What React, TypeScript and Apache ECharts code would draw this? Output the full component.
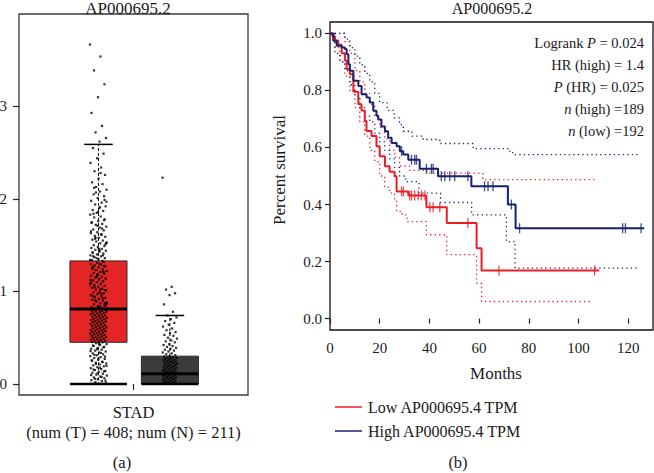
import { useEffect, useRef } from 'react';
import * as echarts from 'echarts';

const FONT = '"Liberation Serif", "Times New Roman", serif';

// ---------- Panel (a): expression box plot ----------
const geneTitle = 'AP000695.2';
const categoryLabel = 'STAD';
const countLabel = '(num (T) = 408; num (N) = 211)';
const leftTicks = [0, 1, 2, 3];
// [min, q1, median, q3, max]
const tumorBox = [0, 0.45, 0.81, 1.33, 2.59];
const normalBox = [0, 0, 0.11, 0.3, 0.74];
const boxFills = ['#e32526', '#3b3b3b'];

const tumorPoints = [
  3.67, 3.54, 3.39, 3.24, 3.1, 2.93, 2.79, 2.72, 2.66, 2.62,
  2.55, 2.49, 2.44, 2.39, 2.34, 2.3, 2.26, 2.22, 2.18, 2.16, 2.13, 2.1, 2.08, 2.05, 2.03, 2.01,
  1.98, 1.96, 1.94, 1.92, 1.9, 1.88, 1.87, 1.85, 1.83, 1.81, 1.8, 1.78, 1.76, 1.75, 1.73, 1.72,
  1.7, 1.69, 1.67, 1.66, 1.64, 1.63, 1.62, 1.6, 1.59, 1.58, 1.56, 1.55, 1.54, 1.53, 1.52, 1.5,
  1.49, 1.48, 1.47, 1.46, 1.45, 1.44, 1.43, 1.42, 1.41, 1.4, 1.39, 1.38, 1.37, 1.36, 1.35, 1.34,
  1.33, 2.07, 1.97, 1.91, 1.84, 1.77, 1.71, 1.65, 1.61, 1.57, 1.51, 1.46, 1.42, 1.39, 1.36, 1.34,
  2.28, 2.12, 1.99, 1.86, 1.74, 1.68, 1.58, 1.52, 1.44, 1.38,
  1.32, 1.31, 1.3, 1.29, 1.28, 1.27, 1.26, 1.25, 1.24, 1.23, 1.22, 1.21, 1.2, 1.19, 1.18, 1.17,
  1.16, 1.15, 1.14, 1.13, 1.12, 1.11, 1.1, 1.09, 1.08, 1.07, 1.06, 1.05, 1.04, 1.03, 1.02, 1.01,
  1.0, 0.99, 0.98, 0.97, 0.96, 0.95, 0.94, 0.93, 0.92, 0.91, 0.9, 0.89, 0.88, 0.87, 0.86, 0.85,
  0.84, 0.83, 0.82, 0.81, 0.8, 1.295, 1.245, 1.205, 1.165, 1.125, 1.085, 1.045, 1.015, 0.985,
  0.955, 0.925, 0.895, 0.865, 0.835, 0.815, 1.275, 1.185, 1.095, 0.975, 0.905, 0.845, 1.135,
  1.265, 1.215, 1.155, 1.075, 1.025, 0.945, 0.875, 0.825,
  0.795, 0.79, 0.785, 0.78, 0.775, 0.77, 0.765, 0.76, 0.755, 0.75, 0.745, 0.74, 0.735, 0.73,
  0.725, 0.72, 0.715, 0.71, 0.705, 0.7, 0.695, 0.69, 0.685, 0.68, 0.675, 0.67, 0.665, 0.66,
  0.655, 0.65, 0.645, 0.64, 0.635, 0.63, 0.625, 0.62, 0.615, 0.61, 0.605, 0.6, 0.595, 0.59,
  0.585, 0.58, 0.575, 0.57, 0.565, 0.56, 0.555, 0.55, 0.545, 0.54, 0.535, 0.53, 0.525, 0.52,
  0.515, 0.51, 0.505, 0.5, 0.495, 0.49, 0.485, 0.48, 0.475, 0.47, 0.465, 0.46, 0.455, 0.45,
  0.44, 0.43, 0.42, 0.41, 0.4, 0.39, 0.38, 0.37, 0.36, 0.35, 0.34, 0.33, 0.32, 0.31, 0.3, 0.29,
  0.28, 0.27, 0.26, 0.25, 0.24, 0.23, 0.22, 0.21, 0.2, 0.19, 0.18, 0.17, 0.16, 0.15, 0.14, 0.13,
  0.12, 0.11, 0.1, 0.09, 0.08, 0.07, 0.06, 0.05, 0.04, 0.03, 0.02, 0.01, 0.435, 0.415, 0.395,
  0.375, 0.355, 0.335, 0.315, 0.295, 0.275, 0.255, 0.235, 0.215, 0.195, 0.175, 0.155, 0.135,
  0.115, 0.095, 0.075, 0.055, 0.035, 0, 0, 0, 0, 0, 0, 0, 0,
];

const normalPoints = [
  2.23, 1.05, 1.02, 0.98, 0.96, 0.86, 0.78,
  0.74, 0.72, 0.7, 0.68, 0.66, 0.64, 0.62, 0.6, 0.58, 0.56, 0.55, 0.53, 0.52, 0.5, 0.49, 0.47,
  0.46, 0.45, 0.43, 0.42, 0.41, 0.4, 0.39, 0.38, 0.37, 0.36, 0.35, 0.34, 0.33, 0.32, 0.31, 0.3,
  0.295, 0.29, 0.285, 0.28, 0.275, 0.27, 0.265, 0.26, 0.255, 0.25, 0.245, 0.24, 0.235, 0.23,
  0.225, 0.22, 0.215, 0.21, 0.205, 0.2, 0.195, 0.19, 0.185, 0.18, 0.175, 0.17, 0.165, 0.16,
  0.155, 0.15, 0.145, 0.14, 0.135, 0.13, 0.125, 0.12, 0.115, 0.11, 0.105, 0.1,
  0.095, 0.09, 0.085, 0.08, 0.075, 0.07, 0.065, 0.06, 0.055, 0.05, 0.045, 0.04, 0.035, 0.03,
  0.025, 0.02, 0.015, 0.01, 0.005, 0, 0, 0, 0, 0, 0, 0, 0, 0, 0, 0,
];

// ---------- Panel (b): Kaplan-Meier ----------
const lowName = 'Low AP000695.4 TPM';
const highName = 'High AP000695.4 TPM';
const monthTicks = [0, 20, 40, 60, 80, 100, 120];
const survTicks = [0, 0.2, 0.4, 0.6, 0.8, 1.0];

const lowTimes = [0, 1, 2, 3.3, 4.7, 6, 6.7, 8, 9.4, 11.4, 12.7, 14, 14.7, 16.7, 18.7, 20, 22.1, 24, 26, 26.8, 31.5, 38.8, 47, 59, 61, 108.4];
const lowSurv = [1, 0.99, 0.975, 0.96, 0.93, 0.905, 0.875, 0.857, 0.795, 0.752, 0.73, 0.693, 0.658, 0.64, 0.604, 0.569, 0.534, 0.515, 0.499, 0.446, 0.432, 0.39, 0.335, 0.247, 0.169, 0.169];
const lowUpperTimes = [0, 3, 6, 8, 10, 12, 14, 16, 18, 20, 22, 24, 26, 28, 32, 39, 61.5, 106.4];
const lowUpperSurv = [1, 1, 0.97, 0.93, 0.87, 0.83, 0.79, 0.75, 0.71, 0.67, 0.63, 0.59, 0.565, 0.535, 0.52, 0.51, 0.487, 0.487];
const lowLowerTimes = [0, 2, 4, 6, 8, 10, 12, 14, 16, 18, 20, 22, 24, 26, 26.8, 29, 31, 38.8, 47, 59, 61, 105];
const lowLowerSurv = [1, 0.95, 0.9, 0.85, 0.8, 0.74, 0.69, 0.64, 0.59, 0.55, 0.5, 0.46, 0.44, 0.417, 0.376, 0.364, 0.34, 0.294, 0.224, 0.124, 0.06, 0.06];
const lowCensor = [28.8, 29.5, 32.1, 32.8, 34.1, 35.5, 36.8, 38.2, 40.2, 41.5, 44.2, 55.5, 68, 106.5];

const highTimes = [0, 1.3, 2.7, 4.7, 6, 6.7, 7.4, 8, 9.4, 11.4, 12.7, 14.7, 16, 17.4, 18.7, 19.4, 20.7, 22.1, 23.4, 24.8, 26.8, 28.1, 29.5, 31.5, 36.1, 43.5, 56.9, 71.6, 74.7, 126.5];
const highSurv = [1, 0.974, 0.957, 0.951, 0.945, 0.927, 0.892, 0.869, 0.834, 0.816, 0.787, 0.775, 0.758, 0.729, 0.711, 0.698, 0.674, 0.657, 0.634, 0.616, 0.604, 0.587, 0.575, 0.557, 0.525, 0.499, 0.464, 0.4, 0.317, 0.317];
const highUpperTimes = [0, 4, 6, 8, 10, 12, 14, 16, 18, 20, 23, 25.8, 28, 29.5, 33, 37.5, 44.2, 57.6, 72.3, 73.6, 124.5];
const highUpperSurv = [1, 1, 0.98, 0.95, 0.92, 0.89, 0.86, 0.83, 0.79, 0.757, 0.73, 0.704, 0.68, 0.657, 0.64, 0.628, 0.614, 0.596, 0.587, 0.575, 0.575];
const highLowerTimes = [0, 2, 4, 6, 8, 10, 12, 14, 16, 18, 20, 22, 24, 26, 28, 30.4, 35.8, 44.5, 57, 71, 74.5, 124.5];
const highLowerSurv = [1, 0.93, 0.9, 0.87, 0.82, 0.78, 0.74, 0.71, 0.69, 0.65, 0.62, 0.59, 0.56, 0.53, 0.5, 0.48, 0.44, 0.407, 0.364, 0.27, 0.177, 0.177];
const highCensor = [28.8, 32.8, 34.1, 34.8, 38.8, 40.8, 41.5, 44.8, 46.2, 48.2, 50.2, 55.5, 62.2, 63.6, 65.6, 73, 76.3, 117.8, 118.9, 125.2];

const statLines = [
  ['Logrank ', 'P', ' = 0.024'],
  ['HR (high) = 1.4', '', ''],
  ['', 'P', ' (HR) = 0.025'],
  ['', 'n', ' (high) =189'],
  ['', 'n', ' (low) =192'],
];

const RED = '#ec1c24';
const BLUE = '#17216e';

const zip = (t: number[], s: number[]) => t.map((v, i) => [v, s[i]]);
const survAt = (t: number[], s: number[], x: number) => {
  let v = s[0];
  for (let i = 0; i < t.length; i++) if (t[i] <= x) v = s[i];
  return v;
};

export default function App() {
  const ref = useRef<HTMLDivElement>(null);
  useEffect(() => {
    if (!ref.current) return;
    const chart = echarts.init(ref.current, undefined, { renderer: 'svg' });

    const boxCenters = [0.347, 0.659];
    const BOX_HALF = 0.1245;
    const jitterHalf = [0.037, 0.032];
    const jitter = (i: number, half: number) => (((i * 0.6180339887) % 1) * 2 - 1) * half;
    const boxData = [tumorBox, normalBox].map((s, i) => [boxCenters[i], ...s]);

    const txt = { fontFamily: FONT, color: '#1a1a1a', fontSize: 15 };

    const ciLine = (name: string, data: number[][], color: string) => ({
      type: 'line', name, xAxisIndex: 1, yAxisIndex: 1, step: 'end', data, showSymbol: false, symbol: 'none',
      lineStyle: { color, width: 1.3, type: [1.3, 3.2] }, z: 2, silent: true,
    });

    const option: any = {
      animation: false,
      backgroundColor: '#fff',
      grid: [
        { left: 19, top: 14, width: 229, height: 381, show: true, borderColor: '#3a3a3a', borderWidth: 1.3, containLabel: false, outerBoundsMode: 'none' },
        { left: 330, top: 22, width: 323, height: 308, show: true, borderColor: '#111', borderWidth: 1.3, containLabel: false, outerBoundsMode: 'none' },
      ],
      xAxis: [
        {
          type: 'value', gridIndex: 0, min: 0, max: 1,
          axisLine: { show: false }, splitLine: { show: false },
          axisTick: { show: true, length: 6, customValues: [0.5], lineStyle: { color: '#222', width: 1.2 } },
          axisLabel: {
            customValues: [0.5], margin: 7, lineHeight: 20, ...txt, fontSize: 16.5,
            formatter: () => categoryLabel + '\n' + countLabel,
          },
        },
        {
          type: 'value', gridIndex: 1, min: 0, max: 130,
          axisLine: { show: false }, splitLine: { show: false },
          axisTick: { show: true, length: 5, customValues: monthTicks, lineStyle: { color: '#222', width: 1.2 } },
          axisLabel: { customValues: monthTicks, margin: 10, ...txt },
        },
      ],
      yAxis: [
        {
          type: 'value', gridIndex: 0, min: -0.12, max: 4.0,
          axisLine: { show: false }, splitLine: { show: false },
          axisTick: { show: true, length: 6, customValues: leftTicks, lineStyle: { color: '#222', width: 1.2 } },
          axisLabel: { customValues: leftTicks, margin: 12, ...txt },
        },
        {
          type: 'value', gridIndex: 1, min: -0.04, max: 1.04,
          axisLine: { show: false }, splitLine: { show: false },
          axisTick: { show: true, length: 5, customValues: survTicks, lineStyle: { color: '#222', width: 1.2 } },
          axisLabel: { customValues: survTicks, margin: 8, ...txt, formatter: (v: number) => v.toFixed(1) },
        },
      ],
      legend: {
        data: [
          { name: lowName, icon: 'rect', itemStyle: { color: RED } },
          { name: highName, icon: 'rect', itemStyle: { color: BLUE } },
        ],
        orient: 'vertical', left: 330, top: 394, itemWidth: 27, itemHeight: 1.5, itemGap: 8,
        textStyle: { ...txt, fontSize: 16, lineHeight: 16, padding: [0, 0, 0, 1] },
        selectedMode: false,
      },
      series: [
        {
          type: 'custom', xAxisIndex: 0, yAxisIndex: 0, z: 1, data: boxData, encode: { x: 0, y: [1, 2, 3, 4, 5] },
          renderItem: (params: any, api: any) => {
            const cx = api.value(0), lo = api.value(1), q1 = api.value(2), q3 = api.value(4), hi = api.value(5);
            const tl = api.coord([cx - BOX_HALF, q3]);
            const br = api.coord([cx + BOX_HALF, q1]);
            const c3 = api.coord([cx, q3]), c1 = api.coord([cx, q1]);
            const chi = api.coord([cx, hi]), clo = api.coord([cx, lo]);
            return {
              type: 'group', children: [
                { type: 'line', shape: { x1: c3[0], y1: c3[1], x2: chi[0], y2: chi[1] }, style: { stroke: '#000', lineWidth: 1, lineDash: [3, 2] } },
                { type: 'line', shape: { x1: c1[0], y1: c1[1], x2: clo[0], y2: clo[1] }, style: { stroke: '#000', lineWidth: 1, lineDash: [3, 2] } },
                { type: 'rect', shape: { x: tl[0], y: tl[1], width: br[0] - tl[0], height: Math.max(br[1] - tl[1], 0) }, style: { fill: boxFills[params.dataIndex], stroke: '#2a2a2a', lineWidth: 1 } },
              ],
            };
          },
        },
        ...[tumorPoints, normalPoints].map((pts, g) => ({
          type: 'scatter', xAxisIndex: 0, yAxisIndex: 0, z: 2, symbol: 'rect', symbolSize: 2.2,
          itemStyle: { color: '#000' }, silent: true,
          data: pts.map((v, i) => [boxCenters[g] + jitter(i, jitterHalf[g]), v]),
        })),
        {
          type: 'custom', xAxisIndex: 0, yAxisIndex: 0, z: 3, data: boxData, encode: { x: 0, y: [1, 2, 3, 4, 5] },
          renderItem: (params: any, api: any) => {
            const cx = api.value(0), lo = api.value(1), med = api.value(3), hi = api.value(5);
            const m1 = api.coord([cx - BOX_HALF, med]), m2 = api.coord([cx + BOX_HALF, med]);
            const h1 = api.coord([cx - BOX_HALF / 2, hi]), h2 = api.coord([cx + BOX_HALF / 2, hi]);
            const l1 = api.coord([cx - BOX_HALF, lo]), l2 = api.coord([cx + BOX_HALF, lo]);
            return {
              type: 'group', children: [
                { type: 'line', shape: { x1: m1[0], y1: m1[1], x2: m2[0], y2: m2[1] }, style: { stroke: '#000', lineWidth: 3 } },
                { type: 'line', shape: { x1: h1[0], y1: h1[1], x2: h2[0], y2: h2[1] }, style: { stroke: '#000', lineWidth: 1.5 } },
                { type: 'line', shape: { x1: l1[0], y1: l1[1], x2: l2[0], y2: l2[1] }, style: { stroke: '#000', lineWidth: 2.5 } },
              ],
            };
          },
        },
        ciLine('lowUpper', zip(lowUpperTimes, lowUpperSurv), RED),
        ciLine('lowLower', zip(lowLowerTimes, lowLowerSurv), RED),
        ciLine('highUpper', zip(highUpperTimes, highUpperSurv), BLUE),
        ciLine('highLower', zip(highLowerTimes, highLowerSurv), BLUE),
        {
          type: 'line', name: lowName, xAxisIndex: 1, yAxisIndex: 1, step: 'end', data: zip(lowTimes, lowSurv),
          showSymbol: false, symbol: 'none', lineStyle: { color: RED, width: 2 }, itemStyle: { color: RED }, z: 3,
        },
        {
          type: 'line', name: highName, xAxisIndex: 1, yAxisIndex: 1, step: 'end', data: zip(highTimes, highSurv),
          showSymbol: false, symbol: 'none', lineStyle: { color: BLUE, width: 2 }, itemStyle: { color: BLUE }, z: 3,
        },
        {
          type: 'scatter', name: 'lowCensor', xAxisIndex: 1, yAxisIndex: 1, symbol: 'rect', symbolSize: [1.3, 10],
          itemStyle: { color: RED }, z: 4, silent: true,
          data: lowCensor.map((t) => [t, survAt(lowTimes, lowSurv, t)]),
        },
        {
          type: 'scatter', name: 'highCensor', xAxisIndex: 1, yAxisIndex: 1, symbol: 'rect', symbolSize: [1.3, 10],
          itemStyle: { color: BLUE }, z: 4, silent: true,
          data: highCensor.map((t) => [t, survAt(highTimes, highSurv, t)]),
        },
      ],
      graphic: [
        { type: 'text', x: 128, y: 0, style: { text: geneTitle, font: `17px ${FONT}`, fill: '#1a1a1a', align: 'center', verticalAlign: 'top' } },
        { type: 'text', x: 492, y: 0, style: { text: geneTitle, font: `16px ${FONT}`, fill: '#1a1a1a', align: 'center', verticalAlign: 'top' } },
        { type: 'text', x: 122, y: 471, style: { text: '(a)', font: `16.5px ${FONT}`, fill: '#1a1a1a', align: 'center', verticalAlign: 'bottom' } },
        { type: 'text', x: 458, y: 471, style: { text: '(b)', font: `16.5px ${FONT}`, fill: '#1a1a1a', align: 'center', verticalAlign: 'bottom' } },
        { type: 'text', x: 496, y: 373, style: { text: 'Months', font: `17px ${FONT}`, fill: '#1a1a1a', align: 'center', verticalAlign: 'middle' } },
        { type: 'text', x: 279, y: 170, rotation: Math.PI / 2, style: { text: 'Percent survival', font: `17px ${FONT}`, fill: '#1a1a1a', align: 'center', verticalAlign: 'middle' } },
        ...statLines.map((parts, i) => ({
          type: 'text', x: 644, y: 43 + i * 22,
          style: {
            text: (parts[0] ? `{n|${parts[0]}}` : '') + (parts[1] ? `{i|${parts[1]}}` : '') + (parts[2] ? `{n|${parts[2]}}` : ''),
            align: 'right', verticalAlign: 'middle',
            rich: {
              n: { fontFamily: FONT, fontSize: 14.5, fill: '#1a1a1a' },
              i: { fontFamily: FONT, fontSize: 14.5, fontStyle: 'italic', fill: '#1a1a1a' },
            },
          },
        })),
      ],
    };
    chart.setOption(option);
    return () => chart.dispose();
  }, []);
  return <div ref={ref} style={{ position: 'fixed', left: 0, top: 0, width: 654, height: 473 }} />;
}
